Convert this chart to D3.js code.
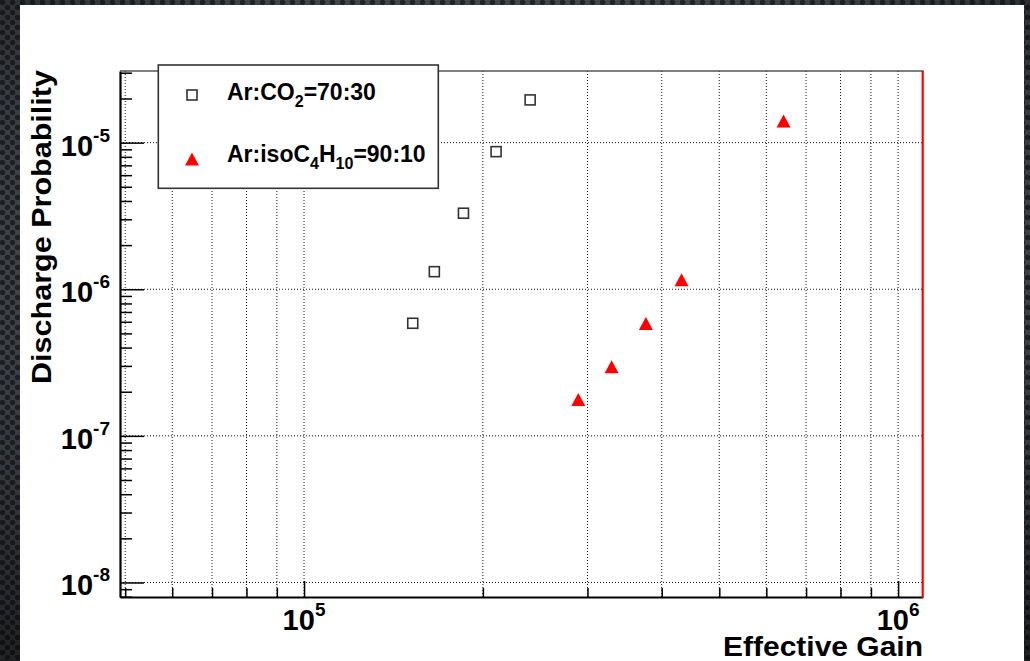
<!DOCTYPE html>
<html>
<head>
<meta charset="utf-8">
<title>Discharge Probability vs Effective Gain</title>
<script src="https://d3js.org/d3.v7.min.js"></script>
<style>
  body { margin: 0; background: #2c2f33; overflow: hidden; }
  svg text { font-family: "Liberation Sans", Arial, sans-serif; font-weight: bold; fill: #000; }
  .grid line { stroke: #111; stroke-width: 1; stroke-dasharray: 1 2; }
</style>
</head>
<body>
<script>
// data
var gainCO2 = [1.524e5, 1.657e5, 1.855e5, 2.105e5, 2.402e5];
var probCO2 = [5.86e-7, 1.318e-6, 3.30e-6, 8.68e-6, 1.956e-5];
var gainIso = [2.895e5, 3.294e5, 3.762e5, 4.32e5, 6.415e5];
var probIso = [1.77e-7, 2.965e-7, 5.83e-7, 1.163e-6, 1.406e-5];
var xLabelTicks = [1e5, 1e6];
var yLabelTicks = [1e-8, 1e-7, 1e-6, 1e-5];
var xTitle = "Effective Gain";
var yTitle = "Discharge Probability";

var W = 1030, H = 661;
var padL = 120, padR = 922.7, padT = 71, padB = 597;

var svg = d3.select("body").append("svg")
  .attr("width", W)
  .attr("height", H);

var defs = svg.append("defs");
var pat = defs.append("pattern")
  .attr("id", "dots")
  .attr("width", 10).attr("height", 10)
  .attr("patternUnits", "userSpaceOnUse");
pat.append("rect").attr("width", 10).attr("height", 10).attr("fill", "#4a4e54");
pat.append("circle").attr("cx", 2.5).attr("cy", 2.5).attr("r", 2.7).attr("fill", "#24272b");
pat.append("circle").attr("cx", 7.5).attr("cy", 7.5).attr("r", 2.7).attr("fill", "#24272b");

var vig = defs.append("radialGradient").attr("id", "vig")
  .attr("cx", "50%").attr("cy", "40%").attr("r", "75%");
vig.append("stop").attr("offset", "0%").attr("stop-color", "#000").attr("stop-opacity", 0);
vig.append("stop").attr("offset", "60%").attr("stop-color", "#000").attr("stop-opacity", 0.1);
vig.append("stop").attr("offset", "100%").attr("stop-color", "#000").attr("stop-opacity", 0.55);

svg.append("rect").attr("width", W).attr("height", H).attr("fill", "url(#dots)");
svg.append("rect").attr("width", W).attr("height", H).attr("fill", "url(#vig)");

// white slide panel
svg.append("rect")
  .attr("x", 20).attr("y", 5)
  .attr("width", 1004).attr("height", H)
  .attr("fill", "#fff");

var x = d3.scaleLog().domain([4.9e4, 1.1e6]).range([padL, padR]);
var y = d3.scaleLog().domain([7.96e-9, 3.08e-5]).range([padB, padT]);

function isDecade(v) {
  var e = Math.log10(v);
  return Math.abs(e - Math.round(e)) < 1e-9;
}

var xAll = x.ticks();
var yAll = y.ticks();

// grid
var grid = svg.append("g").attr("class", "grid");
grid.selectAll(".gx").data(xAll).enter().append("line")
  .attr("x1", function(d) { return x(d); })
  .attr("x2", function(d) { return x(d); })
  .attr("y1", padT).attr("y2", padB);
grid.selectAll(".gy").data(yAll.filter(isDecade)).enter().append("line")
  .attr("x1", padL).attr("x2", padR)
  .attr("y1", function(d) { return y(d); })
  .attr("y2", function(d) { return y(d); });

// axes: minor and major ticks pointing inwards
function styleAxis(g) {
  g.attr("color", "#000");
  g.selectAll("line").attr("stroke-width", 1.5);
}
svg.append("g")
  .attr("transform", "translate(0," + padB + ")")
  .call(d3.axisBottom(x).tickValues(xAll.filter(function(d) { return !isDecade(d); }))
    .tickSize(-9).tickSizeOuter(0).tickFormat(""))
  .call(styleAxis)
  .select(".domain").attr("stroke-width", 2.2);
svg.append("g")
  .attr("transform", "translate(0," + padB + ")")
  .call(d3.axisBottom(x).tickValues(xAll.filter(isDecade))
    .tickSize(-16).tickSizeOuter(0).tickFormat(""))
  .call(styleAxis)
  .select(".domain").remove();
svg.append("g")
  .attr("transform", "translate(" + padL + ",0)")
  .call(d3.axisLeft(y).tickValues(yAll.filter(function(d) { return !isDecade(d); }))
    .tickSize(-12).tickSizeOuter(0).tickFormat(""))
  .call(styleAxis)
  .select(".domain").attr("stroke-width", 2.2);
svg.append("g")
  .attr("transform", "translate(" + padL + ",0)")
  .call(d3.axisLeft(y).tickValues(yAll.filter(isDecade))
    .tickSize(-24).tickSizeOuter(0).tickFormat(""))
  .call(styleAxis)
  .select(".domain").remove();

// frame top and red right edge
svg.append("line")
  .attr("x1", padL).attr("x2", padR + 1)
  .attr("y1", padT).attr("y2", padT)
  .attr("stroke", "#555").attr("stroke-width", 1.6);
svg.append("line")
  .attr("x1", padR).attr("x2", padR)
  .attr("y1", padT).attr("y2", padB + 1)
  .attr("stroke", "#f00").attr("stroke-width", 2.2);

// tick labels
svg.selectAll(".ylab").data(yLabelTicks).enter().append("text")
  .attr("x", 110)
  .attr("y", function(d) { return y(d) + 13; })
  .attr("text-anchor", "end")
  .each(function(d) {
    var t = d3.select(this);
    t.append("tspan").attr("font-size", 29).text("10");
    t.append("tspan").attr("font-size", 19).attr("dy", -14).text(String(Math.round(Math.log10(d))));
  });
svg.selectAll(".xlab").data(xLabelTicks).enter().append("text")
  .attr("x", function(d) { return x(d); })
  .attr("y", 630)
  .attr("text-anchor", "middle")
  .each(function(d) {
    var t = d3.select(this);
    t.append("tspan").attr("font-size", 29).text("10");
    t.append("tspan").attr("font-size", 19).attr("dy", -14).text(String(Math.round(Math.log10(d))));
  });

// axis titles
svg.append("text")
  .attr("x", 923).attr("y", 656)
  .attr("text-anchor", "end")
  .attr("font-size", 28.5)
  .attr("textLength", 200).attr("lengthAdjust", "spacingAndGlyphs")
  .text(xTitle);
svg.append("text")
  .attr("transform", "translate(51,227) rotate(-90)")
  .attr("text-anchor", "middle")
  .attr("font-size", 28.5)
  .attr("textLength", 314).attr("lengthAdjust", "spacingAndGlyphs")
  .text(yTitle);

// markers
var co2 = gainCO2.map(function(g, i) { return { g: g, p: probCO2[i] }; });
var iso = gainIso.map(function(g, i) { return { g: g, p: probIso[i] }; });

svg.selectAll(".sq").data(co2).enter().append("rect")
  .attr("x", function(d) { return x(d.g) - 5; })
  .attr("y", function(d) { return y(d.p) - 5; })
  .attr("width", 10).attr("height", 10)
  .attr("fill", "none").attr("stroke", "#333").attr("stroke-width", 1.6);

var tri = "M0,-6.5L7,6.5L-7,6.5Z";
svg.selectAll(".tri").data(iso).enter().append("path")
  .attr("d", tri)
  .attr("transform", function(d) { return "translate(" + x(d.g) + "," + y(d.p) + ")"; })
  .attr("fill", "#f00");

// legend
var leg = svg.append("g");
leg.append("rect")
  .attr("x", 158.3).attr("y", 65)
  .attr("width", 280).attr("height", 123.3)
  .attr("fill", "#fff").attr("stroke", "#333").attr("stroke-width", 1.6);
leg.append("rect")
  .attr("x", 187).attr("y", 90).attr("width", 10).attr("height", 10)
  .attr("fill", "none").attr("stroke", "#333").attr("stroke-width", 1.6);
leg.append("path").attr("d", tri)
  .attr("transform", "translate(192,159)")
  .attr("fill", "#f00");

var t1 = leg.append("text").attr("x", 227).attr("y", 100).attr("font-size", 23);
t1.append("tspan").text("Ar:CO");
t1.append("tspan").attr("font-size", 16).attr("dy", 7).text("2");
t1.append("tspan").attr("dy", -7).text("=70:30");

var t2 = leg.append("text").attr("x", 227).attr("y", 162).attr("font-size", 23);
t2.append("tspan").text("Ar:isoC");
t2.append("tspan").attr("font-size", 16).attr("dy", 7).text("4");
t2.append("tspan").attr("dy", -7).text("H");
t2.append("tspan").attr("font-size", 16).attr("dy", 7).text("10");
t2.append("tspan").attr("dy", -7).text("=90:10");
</script>
</body>
</html>
